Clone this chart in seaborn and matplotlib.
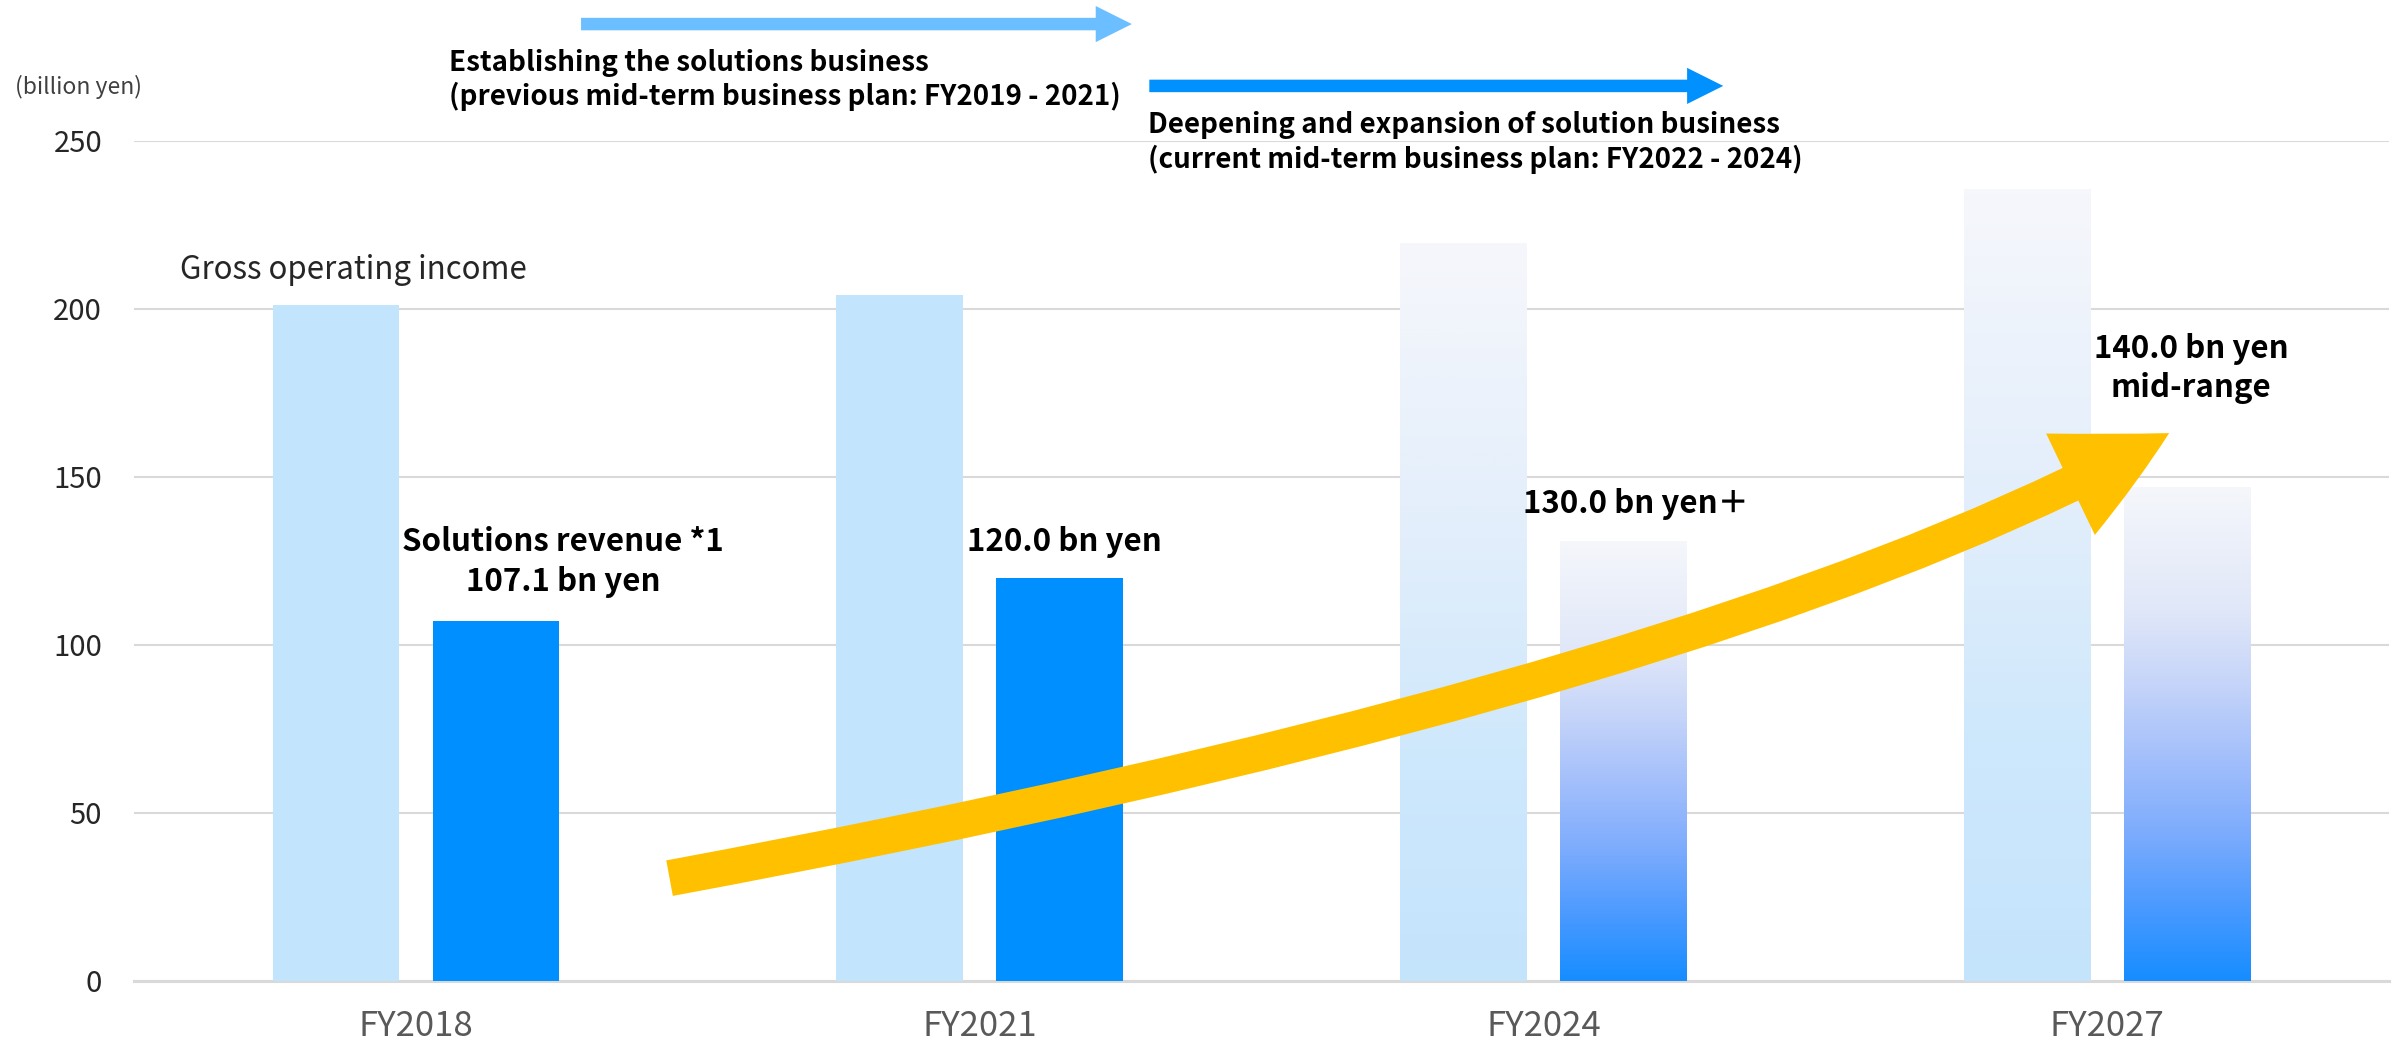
import numpy as np
import pandas as pd
import matplotlib
matplotlib.use("Agg")
import matplotlib.pyplot as plt
import seaborn as sns
from matplotlib import font_manager as fm
from matplotlib.patches import FancyArrowPatch, ArrowStyle
from matplotlib.colors import LinearSegmentedColormap

# ---------------- data ----------------
years = ["FY2018", "FY2021", "FY2024", "FY2027"]
gross_income = [201.0, 204.0, 219.5, 235.5]
solutions_revenue = [107.1, 120.0, 131.0, 147.0]
series_names = ["Gross operating income", "Solutions revenue"]
forecast_years = ["FY2024", "FY2027"]
yticks = [0, 50, 100, 150, 200, 250]

# ---------------- style ----------------
sns.set_theme(style="white")
available = {f.name for f in fm.fontManager.ttflist}
base = "Noto Sans CJK JP" if "Noto Sans CJK JP" in available else "DejaVu Sans"
plt.rcParams["font.family"] = [base, "DejaVu Sans"]

W, H = 2399, 1046
fig = plt.figure(figsize=(W / 100, H / 100), dpi=100)
ax_left, ax_right, ax_bottom, ax_top = 134, 2389, 981, 140.7
ax = fig.add_axes([ax_left / W, 1 - ax_bottom / H, (ax_right - ax_left) / W, (ax_bottom - ax_top) / H])

df = pd.DataFrame({
    "year": years * 2,
    "series": [series_names[0]] * len(years) + [series_names[1]] * len(years),
    "value": gross_income + solutions_revenue,
})

sns.barplot(data=df, x="year", y="value", hue="series",
            palette=["#C3E4FD", "#008FFF"], saturation=1,
            width=0.568, gap=0.21, linewidth=0, legend=False,
            ax=ax, zorder=3)

# gradient fill for forecast bars
light_cmap = LinearSegmentedColormap.from_list(
    "light", [(0, "#C4E4FD"), (0.3, "#CEE8FC"), (0.6, "#E2EEFB"), (1, "#F6F7FB")])
dark_cmap = LinearSegmentedColormap.from_list(
    "dark", [(0, "#168DFF"), (0.15, "#4B9AFF"), (0.3, "#7DACFD"), (0.45, "#A3BFFB"),
             (0.6, "#C5D4F9"), (0.75, "#E0E7F8"), (1, "#F5F7FB")])
grad = np.linspace(0, 1, 256).reshape(-1, 1)
for container, cmap in zip(ax.containers, [light_cmap, dark_cmap]):
    for bar, yr in zip(container, years):
        if yr in forecast_years:
            x0, w, h = bar.get_x(), bar.get_width(), bar.get_height()
            im = ax.imshow(grad, cmap=cmap, extent=[x0, x0 + w, 0, h], origin="lower",
                           aspect="auto", zorder=3.5, interpolation="bilinear")
            im.set_clip_path(bar)

ax.set_xlim(-0.5, 3.5)
ax.set_ylim(0, 250)
ax.set_yticks(yticks)
ax.set_xlabel("")
ax.set_ylabel("")
ax.yaxis.grid(True, color="#D9D9D9", linewidth=1.5, zorder=0)
ax.set_axisbelow(True)
for s in ["top", "right", "left"]:
    ax.spines[s].set_visible(False)
ax.spines["bottom"].set_color("#D9D9D9")
ax.spines["bottom"].set_linewidth(2.2)
ax.tick_params(axis="both", length=0)
ax.tick_params(axis="y", pad=23, labelsize=21, labelcolor="#262626")
ax.tick_params(axis="x", pad=20, labelsize=25, labelcolor="#595959")

# ---------------- yellow growth arrow ----------------
growth = FancyArrowPatch(posA=(0.45, 30.6), posB=(3.11, 163.0),
                         connectionstyle="angle3,angleA=10.5,angleB=29.3",
                         arrowstyle=ArrowStyle.Simple(head_length=80, head_width=81, tail_width=26),
                         mutation_scale=1, color="#FFC000", shrinkA=0, shrinkB=0,
                         linewidth=0, zorder=6)
ax.add_patch(growth)

# ---------------- plan arrows above the plot ----------------
for (xa, xb, yv, col) in [(0.293, 1.270, 284.7, "#6BBEFF"), (1.301, 2.319, 266.3, "#0091FF")]:
    pa = FancyArrowPatch(posA=(xa, yv), posB=(xb, yv),
                         arrowstyle=ArrowStyle.Simple(head_length=26, head_width=26, tail_width=9),
                         mutation_scale=1, color=col, shrinkA=0, shrinkB=0,
                         linewidth=0, clip_on=False, zorder=6)
    ax.add_patch(pa)

top_kw = dict(fontsize=20, fontweight="bold", color="black",
              ha="left", va="center", clip_on=False)
ax.text(0.0585, 273.1, "Establishing the solutions business", **top_kw)
ax.text(0.0585, 263.3, "(previous mid-term business plan: FY2019 - 2021)", **top_kw)
ax.text(1.298, 254.7, "Deepening and expansion of solution business", **top_kw)
ax.text(1.298, 244.3, "(current mid-term business plan: FY2022 - 2024)", **top_kw)

ann_kw = dict(fontsize=22.5, fontweight="bold", color="black",
              ha="center", va="center", zorder=7)
ax.text(0.261, 130.5, "Solutions revenue *1", **ann_kw)
ax.text(0.261, 118.6, "107.1 bn yen", **ann_kw)
ax.text(1.15, 130.5, "120.0 bn yen", **ann_kw)
ax.text(2.165, 142.0, "130.0 bn yen＋", **ann_kw)
ax.text(3.149, 188.0, "140.0 bn yen", **ann_kw)
ax.text(3.149, 176.5, "mid-range", **ann_kw)

ax.text(-0.418, 211.5, "Gross operating income", fontsize=22.5, color="#262626",
        ha="left", va="center", zorder=7)
fig.text(15 / W, 1 - 87 / H, "(billion yen)", fontsize=16.5, color="#404040",
         ha="left", va="center")

fig.savefig("out.png", dpi=100, facecolor="white")
